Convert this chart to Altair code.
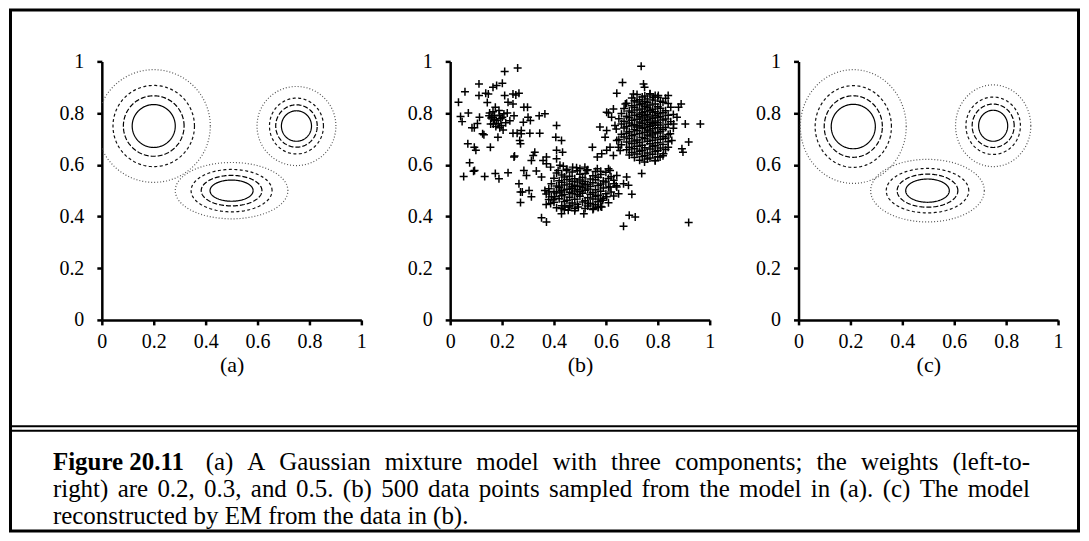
import numpy as np
import pandas as pd
import altair as alt

FONT = "Liberation Serif"

tick_values = [0, 0.2, 0.4, 0.6, 0.8, 1]
panel_titles = ["(a)", "(b)", "(c)"]

caption_bold = "Figure 20.11"
caption_1 = "(a) A Gaussian mixture model with three components; the weights (left-to-"
caption_2 = "right) are 0.2, 0.3, and 0.5. (b) 500 data points sampled from the model in (a). (c) The model"
caption_3 = "reconstructed by EM from the data in (b)."

# contour levels, innermost (solid) to outermost (dotted)
levels = ["solid", "long", "short", "dotted"]
level_dash = [[1, 0], [5, 2], [3, 2.5], [1, 2]]
level_color = ["#000000", "#000000", "#111111", "#555555"]

# panel (a): the true mixture - centres and contour semi-axes (rx, ry)
a_centers = [(0.2, 0.75), (0.5, 0.5), (0.75, 0.75)]
a_axes = [
    [(0.083, 0.083), (0.117, 0.117), (0.157, 0.157), (0.218, 0.218)],
    [(0.083, 0.041), (0.117, 0.059), (0.156, 0.082), (0.217, 0.109)],
    [(0.058, 0.059), (0.080, 0.082), (0.104, 0.108), (0.152, 0.153)],
]
# panel (c): the EM reconstruction
c_centers = [(0.211, 0.748), (0.497, 0.50), (0.75, 0.751)]
c_axes = [
    [(0.085, 0.086), (0.112, 0.119), (0.147, 0.158), (0.204, 0.220)],
    [(0.084, 0.045), (0.117, 0.064), (0.159, 0.086), (0.219, 0.121)],
    [(0.056, 0.060), (0.081, 0.084), (0.105, 0.111), (0.145, 0.158)],
]

# panel (b): sampled points
left_pts = [
    (0.032, 0.842), (0.057, 0.883), (0.040, 0.787), (0.046, 0.767), (0.070, 0.800), (0.084, 0.743),
    (0.093, 0.743), (0.068, 0.681), (0.075, 0.608), (0.094, 0.578), (0.090, 0.575), (0.052, 0.555),
    (0.099, 0.656), (0.093, 0.668), (0.111, 0.913), (0.111, 0.868), (0.113, 0.784), (0.130, 0.716),
    (0.137, 0.877), (0.143, 0.841), (0.147, 0.874), (0.155, 0.668), (0.133, 0.555), (0.174, 0.566),
    (0.188, 0.546), (0.223, 0.569), (0.165, 0.900), (0.179, 0.907), (0.201, 0.915), (0.210, 0.961),
    (0.260, 0.974), (0.152, 0.800), (0.161, 0.784), (0.171, 0.790), (0.178, 0.771), (0.156, 0.758),
    (0.166, 0.758), (0.184, 0.707), (0.191, 0.743), (0.197, 0.752), (0.204, 0.735), (0.207, 0.797),
    (0.201, 0.784), (0.214, 0.763), (0.210, 0.868), (0.223, 0.842), (0.174, 0.823), (0.188, 0.810),
    (0.242, 0.874), (0.253, 0.870), (0.265, 0.877), (0.242, 0.835), (0.246, 0.790), (0.242, 0.722),
    (0.258, 0.722), (0.274, 0.733), (0.284, 0.823), (0.298, 0.823), (0.282, 0.765), (0.300, 0.784),
    (0.309, 0.771), (0.268, 0.694), (0.274, 0.720), (0.307, 0.722), (0.246, 0.630), (0.248, 0.634),
    (0.271, 0.681), (0.170, 0.775), (0.158, 0.781), (0.185, 0.760), (0.165, 0.805), (0.195, 0.778),
    (0.176, 0.748), (0.190, 0.792), (0.220, 0.800), (0.230, 0.770), (0.150, 0.790), (0.125, 0.720),
    (0.105, 0.760),
]
bridge_pts = [
    (0.265, 0.527), (0.271, 0.495), (0.278, 0.495), (0.271, 0.454), (0.284, 0.578), (0.294, 0.559),
    (0.304, 0.501), (0.313, 0.476), (0.320, 0.636), (0.326, 0.649), (0.313, 0.617), (0.332, 0.576),
    (0.345, 0.722), (0.343, 0.790), (0.365, 0.797), (0.358, 0.617), (0.352, 0.553), (0.371, 0.630),
    (0.371, 0.604), (0.352, 0.395), (0.371, 0.379), (0.365, 0.501), (0.410, 0.752), (0.407, 0.707),
    (0.429, 0.694), (0.433, 0.649), (0.410, 0.656), (0.410, 0.623), (0.423, 0.598), (0.416, 0.578),
    (0.387, 0.591), (0.381, 0.495), (0.387, 0.450), (0.397, 0.465), (0.403, 0.476),
]
mid_edge_pts = [
    (0.436, 0.594), (0.448, 0.578), (0.472, 0.591), (0.487, 0.589), (0.500, 0.585), (0.519, 0.591),
    (0.526, 0.578), (0.548, 0.668), (0.567, 0.630), (0.577, 0.746), (0.584, 0.643), (0.603, 0.656),
    (0.610, 0.585), (0.616, 0.578), (0.629, 0.636), (0.642, 0.559), (0.567, 0.585), (0.580, 0.575),
    (0.642, 0.514), (0.649, 0.488), (0.668, 0.527), (0.680, 0.553), (0.687, 0.521), (0.700, 0.486),
    (0.690, 0.405), (0.713, 0.398), (0.668, 0.362), (0.919, 0.377), (0.420, 0.514), (0.423, 0.495),
    (0.429, 0.431), (0.429, 0.411), (0.442, 0.437), (0.455, 0.424), (0.461, 0.443), (0.481, 0.431),
    (0.494, 0.437), (0.515, 0.411), (0.532, 0.450), (0.552, 0.431), (0.571, 0.437), (0.584, 0.437),
    (0.588, 0.463), (0.603, 0.476), (0.616, 0.514), (0.632, 0.527),
]
mid_core_pts = [
    (0.45, 0.583), (0.49, 0.577), (0.53, 0.581), (0.56, 0.574),
    (0.41, 0.568), (0.47, 0.572), (0.52, 0.566), (0.60, 0.571),
    (0.43, 0.561), (0.46, 0.556), (0.50, 0.563), (0.55, 0.558), (0.58, 0.562), (0.62, 0.554),
    (0.40, 0.548), (0.44, 0.553), (0.48, 0.546), (0.51, 0.551), (0.54, 0.545), (0.57, 0.552), (0.61, 0.547),
    (0.42, 0.538), (0.45, 0.543), (0.47, 0.536), (0.50, 0.541), (0.52, 0.535), (0.56, 0.542), (0.59, 0.537), (0.63, 0.540),
    (0.39, 0.527), (0.43, 0.532), (0.46, 0.526), (0.49, 0.533), (0.51, 0.528), (0.53, 0.524), (0.55, 0.531), (0.58, 0.526), (0.60, 0.533),
    (0.41, 0.518), (0.44, 0.522), (0.47, 0.515), (0.48, 0.521), (0.50, 0.517), (0.52, 0.523), (0.54, 0.516), (0.57, 0.520), (0.61, 0.514), (0.64, 0.519),
    (0.38, 0.507), (0.42, 0.512), (0.45, 0.505), (0.47, 0.509), (0.49, 0.504), (0.51, 0.511), (0.53, 0.506), (0.56, 0.503), (0.59, 0.510),
    (0.40, 0.497), (0.43, 0.501), (0.46, 0.494), (0.48, 0.499), (0.50, 0.496), (0.52, 0.502), (0.55, 0.493), (0.58, 0.498), (0.62, 0.495),
    (0.37, 0.487), (0.41, 0.491), (0.44, 0.485), (0.47, 0.489), (0.49, 0.484), (0.51, 0.490), (0.54, 0.486), (0.57, 0.482), (0.60, 0.488),
    (0.39, 0.476), (0.43, 0.480), (0.46, 0.474), (0.50, 0.478), (0.53, 0.473), (0.56, 0.477), (0.59, 0.471), (0.63, 0.479),
    (0.38, 0.466), (0.42, 0.469), (0.45, 0.463), (0.48, 0.467), (0.52, 0.461), (0.55, 0.468), (0.58, 0.464),
    (0.40, 0.455), (0.44, 0.458), (0.47, 0.452), (0.51, 0.456), (0.54, 0.450), (0.57, 0.457), (0.61, 0.453),
    (0.37, 0.446), (0.43, 0.442), (0.49, 0.447), (0.53, 0.441), (0.56, 0.445), (0.58, 0.439),
    (0.41, 0.434), (0.46, 0.437), (0.52, 0.431), (0.57, 0.435),
    (0.44, 0.426), (0.48, 0.422), (0.55, 0.427),
]
right_core_pts = [
    (0.72, 0.872), (0.75, 0.866), (0.77, 0.875), (0.79, 0.868),
    (0.70, 0.858), (0.74, 0.862), (0.76, 0.855), (0.80, 0.861), (0.83, 0.857),
    (0.71, 0.848), (0.73, 0.852), (0.75, 0.845), (0.78, 0.851), (0.81, 0.846),
    (0.68, 0.838), (0.72, 0.843), (0.74, 0.836), (0.76, 0.841), (0.79, 0.835), (0.82, 0.842), (0.84, 0.837),
    (0.70, 0.828), (0.73, 0.832), (0.75, 0.826), (0.77, 0.831), (0.80, 0.825),
    (0.67, 0.818), (0.71, 0.822), (0.74, 0.816), (0.76, 0.821), (0.78, 0.815), (0.81, 0.819), (0.85, 0.823),
    (0.69, 0.808), (0.72, 0.812), (0.75, 0.806), (0.77, 0.811), (0.79, 0.805), (0.83, 0.809),
    (0.66, 0.798), (0.70, 0.802), (0.73, 0.796), (0.74, 0.801), (0.76, 0.795), (0.78, 0.803), (0.80, 0.797), (0.82, 0.801), (0.86, 0.795),
    (0.68, 0.788), (0.71, 0.792), (0.73, 0.786), (0.75, 0.790), (0.77, 0.785), (0.79, 0.791), (0.81, 0.787), (0.84, 0.792),
    (0.65, 0.778), (0.69, 0.782), (0.72, 0.776), (0.74, 0.781), (0.76, 0.775), (0.78, 0.779), (0.80, 0.783), (0.83, 0.777),
    (0.67, 0.768), (0.70, 0.772), (0.73, 0.766), (0.75, 0.771), (0.77, 0.765), (0.79, 0.769), (0.82, 0.773), (0.85, 0.767),
    (0.66, 0.758), (0.69, 0.762), (0.71, 0.756), (0.74, 0.761), (0.76, 0.755), (0.78, 0.759), (0.80, 0.763), (0.81, 0.754), (0.84, 0.757),
    (0.68, 0.748), (0.70, 0.752), (0.72, 0.746), (0.73, 0.751), (0.75, 0.745), (0.77, 0.749), (0.79, 0.753), (0.83, 0.744),
    (0.64, 0.738), (0.67, 0.742), (0.71, 0.736), (0.74, 0.741), (0.76, 0.735), (0.78, 0.739), (0.80, 0.743), (0.82, 0.737), (0.86, 0.741),
    (0.69, 0.728), (0.72, 0.732), (0.75, 0.726), (0.77, 0.731), (0.79, 0.725), (0.81, 0.729),
    (0.66, 0.718), (0.68, 0.722), (0.71, 0.716), (0.73, 0.721), (0.76, 0.715), (0.78, 0.719), (0.80, 0.723), (0.84, 0.717),
    (0.67, 0.708), (0.70, 0.712), (0.74, 0.706), (0.77, 0.711), (0.79, 0.705), (0.82, 0.709),
    (0.65, 0.698), (0.69, 0.702), (0.72, 0.696), (0.75, 0.701), (0.78, 0.695), (0.81, 0.699), (0.83, 0.703),
    (0.68, 0.688), (0.71, 0.692), (0.73, 0.686), (0.76, 0.691), (0.80, 0.685), (0.84, 0.689),
    (0.66, 0.678), (0.70, 0.682), (0.74, 0.676), (0.77, 0.681), (0.79, 0.675), (0.82, 0.679),
    (0.69, 0.668), (0.72, 0.672), (0.75, 0.666), (0.78, 0.671), (0.81, 0.665),
    (0.68, 0.658), (0.71, 0.662), (0.74, 0.656), (0.77, 0.661), (0.80, 0.655), (0.83, 0.659),
    (0.70, 0.648), (0.73, 0.652), (0.76, 0.646), (0.79, 0.651),
    (0.69, 0.638), (0.72, 0.642), (0.75, 0.636), (0.78, 0.641), (0.82, 0.635),
    (0.71, 0.628), (0.74, 0.632), (0.77, 0.626), (0.80, 0.631),
    (0.73, 0.618), (0.76, 0.622), (0.79, 0.616),
]
right_edge_pts = [
    (0.736, 0.981), (0.664, 0.918), (0.642, 0.877), (0.745, 0.913), (0.749, 0.900), (0.706, 0.874),
    (0.675, 0.835), (0.603, 0.803), (0.610, 0.800), (0.629, 0.816), (0.622, 0.784), (0.635, 0.752),
    (0.603, 0.733), (0.597, 0.707), (0.642, 0.694), (0.616, 0.668), (0.648, 0.668), (0.655, 0.655),
    (0.738, 0.566), (0.749, 0.611), (0.790, 0.617), (0.809, 0.630), (0.822, 0.643), (0.840, 0.668),
    (0.854, 0.694), (0.848, 0.720), (0.861, 0.758), (0.874, 0.784), (0.890, 0.835), (0.880, 0.823),
    (0.906, 0.758), (0.964, 0.758), (0.893, 0.662), (0.897, 0.649), (0.919, 0.688), (0.840, 0.868),
    (0.802, 0.868), (0.770, 0.874), (0.784, 0.861),
]

# ---------------------------------------------------------------- helpers
def contour_table(centers, axes):
    t = np.linspace(0, 2 * np.pi, 161)
    rows = []
    for ci, (cx, cy) in enumerate(centers):
        for li, (rx, ry) in enumerate(axes[ci]):
            for k, tt in enumerate(t):
                rows.append({"x": cx + rx * np.cos(tt), "y": cy + ry * np.sin(tt),
                             "i": k, "cid": f"{ci}-{li}", "level": levels[li]})
    return pd.DataFrame(rows)


all_pts = left_pts + bridge_pts + mid_edge_pts + mid_core_pts + right_core_pts + right_edge_pts
scatter_df = pd.DataFrame(all_pts, columns=["x", "y"])

W, H = 260, 259
scale = alt.Scale(domain=[0, 1], nice=False, zero=False)


def xy(title):
    x = alt.X("x:Q", scale=scale,
              axis=alt.Axis(values=tick_values, format="~g", title=title, labelPadding=7,
                            titlePadding=3, labelFlush=False))
    y = alt.Y("y:Q", scale=scale,
              axis=alt.Axis(values=tick_values, format="~g", title=None, labelPadding=13,
                            labelFlush=False))
    return x, y


def contour_chart(centers, axes, title):
    x, y = xy(title)
    return alt.Chart(contour_table(centers, axes)).mark_line(strokeWidth=1.2, clip=True).encode(
        x=x, y=y, detail="cid:N", order="i:Q",
        strokeDash=alt.StrokeDash("level:N", scale=alt.Scale(domain=levels, range=level_dash), legend=None),
        color=alt.Color("level:N", scale=alt.Scale(domain=levels, range=level_color), legend=None),
    ).properties(width=W, height=H)


# Times / Liberation Serif advance widths (1/1000 em) used to justify the caption
REG = {" ": 250, "(": 333, ")": 333, ";": 278, ",": 250, ".": 250, "-": 333,
       "A": 722, "E": 611, "G": 722, "M": 889, "T": 611,
       "a": 444, "b": 500, "c": 444, "d": 500, "e": 444, "f": 333, "g": 500, "h": 500,
       "i": 278, "j": 278, "k": 500, "l": 278, "m": 778, "n": 500, "o": 500, "p": 500,
       "q": 500, "r": 333, "s": 389, "t": 278, "u": 500, "v": 500, "w": 722, "x": 500,
       "y": 500, "z": 444}
for d in "0123456789":
    REG[d] = 500

CAP_FS = 25
one = pd.DataFrame({"k": [0]})


def word_mark(text, xpos, ypos, bold=False):
    return alt.Chart(pd.DataFrame({"t": [text]})).mark_text(
        align="left", baseline="alphabetic", font=FONT, fontSize=CAP_FS,
        fontWeight="bold" if bold else "normal", color="black").encode(
        text="t:N", x=alt.value(xpos), y=alt.value(ypos))


def justified(text, x0, x1, ypos):
    words = text.split(" ")
    widths = [sum(REG[c] for c in w) / 1000 * CAP_FS for w in words]
    gap = (x1 - x0 - sum(widths)) / (len(words) - 1)
    marks, xpos = [], x0
    for w, wd in zip(words, widths):
        marks.append(word_mark(w, xpos, ypos))
        xpos += wd + gap
    return marks


# panel-(a)-relative pixel layout of the frame and caption
LEFT, RIGHT = -49, 930
frame = alt.Chart(one).mark_rect(fillOpacity=0, stroke="black", strokeWidth=3).encode(
    x=alt.value(-91.5), x2=alt.value(978.5), y=alt.value(-51.5), y2=alt.value(470.5))
sep1 = alt.Chart(one).mark_rule(color="black", strokeWidth=2).encode(
    x=alt.value(-93), x2=alt.value(980), y=alt.value(365.5))
sep2 = alt.Chart(one).mark_rule(color="black", strokeWidth=2).encode(
    x=alt.value(-93), x2=alt.value(980), y=alt.value(370))

caption_marks = (
    [word_mark(caption_bold, LEFT, 409.5, bold=True)]
    + justified(caption_1, 104, RIGHT, 409.5)
    + justified(caption_2, LEFT, RIGHT, 436.5)
    + [word_mark(caption_3, LEFT, 463.5)]
)

panel_a = alt.layer(
    contour_chart(a_centers, a_axes, panel_titles[0]),
    frame, sep1, sep2, *caption_marks,
)

xb, yb = xy(panel_titles[1])
panel_b = alt.Chart(scatter_df).mark_point(
    shape="M-1,0L1,0M0,-1L0,1", filled=False, size=64, strokeWidth=1.5, color="black", opacity=1
).encode(x=xb, y=yb).properties(width=W, height=H)

panel_c = contour_chart(c_centers, c_axes, panel_titles[2])

chart = alt.hconcat(panel_a, panel_b, panel_c, spacing=89, bounds="flush").properties(
    padding=0
).configure_view(stroke=None).configure_axis(
    domainColor="black", domainWidth=2.5, tickColor="black", tickWidth=2.5, tickSize=5,
    labelFont=FONT, labelFontSize=20, labelColor="black", grid=False, labelOverlap=False,
    titleFont=FONT, titleFontSize=22, titleFontWeight="normal", titleColor="black",
)

chart.save("out.html", embed_options={"renderer": "svg", "actions": False})
